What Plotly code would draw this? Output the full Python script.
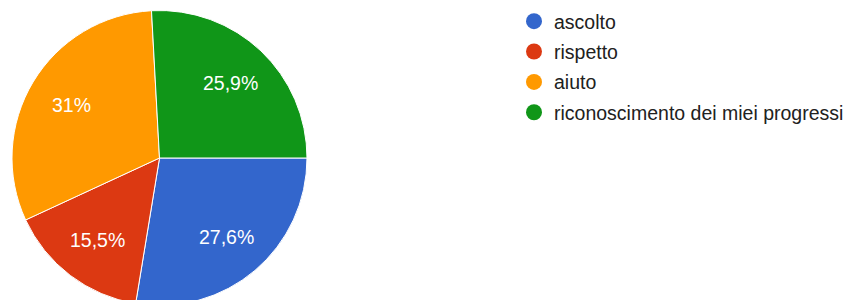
import math
import plotly.graph_objects as go

labels = ["ascolto", "rispetto", "aiuto", "riconoscimento dei miei progressi"]
counts = [16, 9, 18, 15]
colors = ["#3366cc", "#dc3912", "#ff9900", "#109618"]

total = sum(counts)
def fmt(v):
    s = f"{v / total * 100:.1f}"
    if s.endswith(".0"):
        s = s[:-2]
    return s.replace(".", ",") + "%"
pct_text = [fmt(v) for v in counts]

W, H = 849, 310
FONT = "Liberation Sans, Arial, Helvetica, sans-serif"
FS = 19.5

# pie geometry (pixels)
PX0, PX1 = 12, 307
PY_TOP, PY_BOT = 10.5, 305.5
cx, cy = (PX0 + PX1) / 2, (PY_TOP + PY_BOT) / 2
R = (PX1 - PX0) / 2

fig = go.Figure()
fig.add_trace(go.Pie(
    labels=labels, values=counts, textinfo="none",
    marker=dict(colors=colors, line=dict(color="white", width=1)),
    sort=False, direction="clockwise", rotation=90, showlegend=False,
    domain=dict(x=[PX0 / W, PX1 / W], y=[1 - PY_BOT / H, 1 - PY_TOP / H]),
    hoverinfo="label+percent",
))
for i, (lab, col) in enumerate(zip(labels, colors)):
    fig.add_trace(go.Scatter(
        x=[None], y=[None], mode="markers", name=lab, legendgroup=f"g{i}",
        marker=dict(color=col, size=20, symbol="circle"),
    ))

# percentage labels at 0.7 R along each slice's mid-angle (clockwise from 3 o'clock)
annotations = []
cum = 0
for v, t in zip(counts, pct_text):
    mid = (cum + v / 2) / total * 2 * math.pi
    cum += v
    r = 0.7 * R
    px = cx + r * math.cos(mid)
    py = cy + r * math.sin(mid)
    annotations.append(dict(
        x=px / W, y=1 - py / H, xref="paper", yref="paper", text=t,
        showarrow=False, xanchor="center", yanchor="middle",
        font=dict(color="white", size=FS, family=FONT),
    ))

fig.update_layout(
    width=W, height=H, margin=dict(l=0, r=0, t=0, b=0),
    paper_bgcolor="white", plot_bgcolor="white",
    xaxis=dict(visible=False), yaxis=dict(visible=False),
    showlegend=True, annotations=annotations,
    legend=dict(x=514 / W, xanchor="left", y=1 - 2 / H, yanchor="top",
                font=dict(size=FS, color="#212121", family=FONT),
                tracegroupgap=2, bgcolor="rgba(0,0,0,0)"),
)
fig.write_html("out.html", config={"displayModeBar": False},
               post_script="document.body.style.margin='0';document.body.style.overflow='hidden';")
